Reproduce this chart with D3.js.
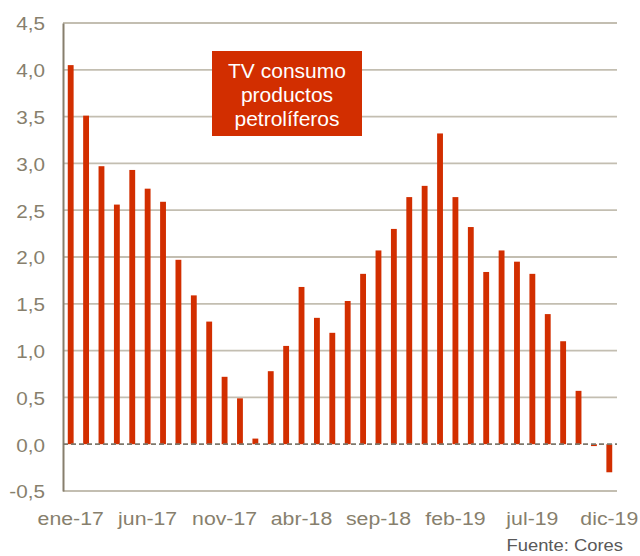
<!DOCTYPE html>
<html>
<head>
<meta charset="utf-8">
<script src="https://cdn.jsdelivr.net/npm/d3@7"></script>
<style>
  html, body { margin: 0; padding: 0; background: #fff; }
  svg { display: block; }
</style>
</head>
<body>
<svg id="chart" width="640" height="556"></svg>
<script>
const monthNames = ["ene","feb","mar","abr","may","jun","jul","ago","sep","oct","nov","dic"];
const years = ["17","18","19"];
const categories = [];
years.forEach(y => monthNames.forEach(m => categories.push(m + "-" + y)));

const values = [
  4.05, 3.51, 2.97, 2.56, 2.93, 2.73, 2.59, 1.97, 1.59, 1.31, 0.72, 0.49,
  0.06, 0.78, 1.05, 1.68, 1.35, 1.19, 1.53, 1.82, 2.07, 2.30, 2.64, 2.76,
  3.32, 2.64, 2.32, 1.84, 2.07, 1.95, 1.82, 1.39, 1.10, 0.57, -0.02, -0.30
];

const yTicks = [-0.5, 0, 0.5, 1.0, 1.5, 2.0, 2.5, 3.0, 3.5, 4.0, 4.5];
const xTickLabels = ["ene-17","jun-17","nov-17","abr-18","sep-18","feb-19","jul-19","dic-19"];
const titleLines = ["TV consumo", "productos", "petrolíferos"];
const sourceText = "Fuente: Cores";

const svg = d3.select("#chart");
const margin = { left: 63, right: 23, top: 23, bottom: 65 };
const W = 640, H = 556;
const FONT = "Arial, 'Liberation Sans', sans-serif";
const STRETCH = 1.15;

const x = d3.scaleBand().domain(categories).range([margin.left, W - margin.right]).paddingInner(0.62).paddingOuter(0.31);
const y = d3.scaleLinear().domain([-0.5, 4.5]).range([H - margin.bottom, margin.top]);

const fmt = d => d3.format(".1f")(d).replace(".", ",").replace("\u2212", "-");
const axisColor = "#877f6d";
const gridColor = "#c3beb1";
const barColor = "#d22e00";

// gridlines
svg.append("g")
  .selectAll("line")
  .data(yTicks.filter(d => d !== 0))
  .join("line")
  .attr("x1", margin.left).attr("x2", W - margin.right)
  .attr("y1", d => y(d)).attr("y2", d => y(d))
  .attr("stroke", gridColor).attr("stroke-width", 1.8);

// y axis
const yAxis = d3.axisLeft(y).tickValues(yTicks).tickFormat(fmt).tickSize(0).tickPadding(0);
const gy = svg.append("g").attr("transform", `translate(${margin.left},0)`).call(yAxis);
gy.select(".domain").attr("stroke", axisColor).attr("stroke-width", 2);
gy.selectAll("text")
  .attr("x", 0)
  .attr("dy", "0.38em")
  .attr("transform", `translate(-18,0) scale(${STRETCH},1)`)
  .attr("fill", axisColor)
  .style("font-family", FONT)
  .style("font-size", "18px");

// bars
svg.append("g")
  .selectAll("rect")
  .data(values)
  .join("rect")
  .attr("x", (d, i) => x(categories[i]))
  .attr("width", x.bandwidth())
  .attr("y", d => y(Math.max(0, d)))
  .attr("height", d => Math.abs(y(d) - y(0)))
  .attr("fill", barColor);

// zero line dashed
svg.append("line")
  .attr("x1", margin.left).attr("x2", W - margin.right)
  .attr("y1", y(0)).attr("y2", y(0))
  .attr("stroke", "#7d786c").attr("stroke-width", 1.8)
  .attr("stroke-dasharray", "5,3");

// x axis labels
const xAxis = d3.axisBottom(x).tickValues(xTickLabels).tickSize(0).tickPadding(0);
const gx = svg.append("g").attr("transform", `translate(0,${y(-0.5)})`).call(xAxis);
gx.select(".domain").remove();
gx.selectAll("text")
  .attr("y", 0)
  .attr("dy", 0)
  .attr("transform", `translate(0,34) scale(${STRETCH},1)`)
  .attr("fill", axisColor)
  .style("font-family", FONT)
  .style("font-size", "18.5px");

// title box
const boxX = 212, boxY = 51, boxW = 150, boxH = 85;
svg.append("rect")
  .attr("x", boxX).attr("y", boxY).attr("width", boxW).attr("height", boxH)
  .attr("fill", "#d22e00");
svg.append("text")
  .attr("x", boxX + boxW / 2).attr("y", boxY + 27)
  .attr("text-anchor", "middle")
  .attr("fill", "#fff")
  .style("font-family", FONT)
  .style("font-size", "21px")
  .selectAll("tspan")
  .data(titleLines)
  .join("tspan")
  .attr("x", boxX + boxW / 2)
  .attr("dy", (d, i) => i === 0 ? 0 : 24)
  .text(d => d);

// source
svg.append("text")
  .attr("text-anchor", "end")
  .attr("transform", `translate(623,551) scale(${STRETCH},1)`)
  .attr("fill", "#595959")
  .style("font-family", FONT)
  .style("font-size", "16px")
  .text(sourceText);
</script>
</body>
</html>
